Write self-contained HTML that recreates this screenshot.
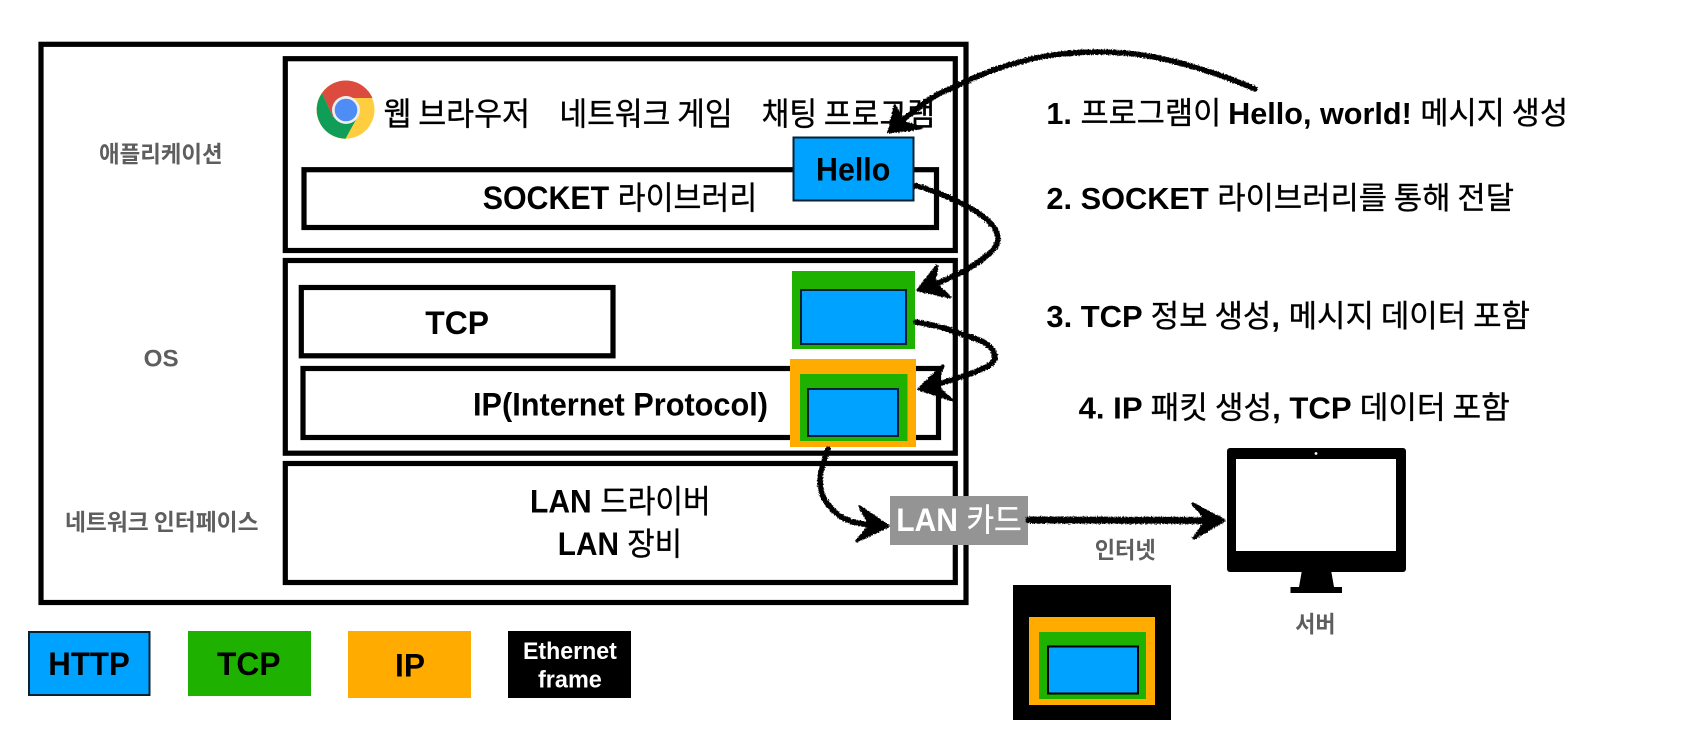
<!DOCTYPE html>
<html><head><meta charset="utf-8"><style>
html,body{margin:0;padding:0;background:#fff;width:1682px;height:750px;overflow:hidden}
svg{display:block}
text{font-family:"Liberation Sans","Noto Sans CJK KR",sans-serif;font-size:32px;fill:#000}
.b{font-weight:700}
.k{font-weight:400;font-family:"Noto Sans CJK KR",sans-serif;stroke:#000;stroke-width:.35}
.g{fill:#5e5e5e;font-size:23px;font-weight:700;font-family:"Noto Sans CJK KR","Liberation Sans",sans-serif}
.box{fill:#fff;stroke:#000;stroke-width:5.2}
.pkt{stroke:#0a2030;stroke-width:2}
.arr{fill:none;stroke:#000;stroke-width:5.5;stroke-linecap:round;stroke-linejoin:round}
.hd{fill:#000;stroke:#000;stroke-width:3;stroke-linejoin:round}
</style></head><body>
<svg width="1682" height="750" viewBox="0 0 1682 750" xmlns="http://www.w3.org/2000/svg">
<defs><filter id="r" x="-10%" y="-10%" width="120%" height="120%"><feTurbulence type="fractalNoise" baseFrequency="0.7" numOctaves="2" seed="3"/><feDisplacementMap in="SourceGraphic" scale="3.5" xChannelSelector="R" yChannelSelector="G"/></filter></defs>
<rect x="41" y="44.3" width="925" height="558.2" class="box"/>
<rect x="285.3" y="58.7" width="670" height="191.8" class="box"/>
<rect x="285.3" y="260.5" width="670" height="192.7" class="box"/>
<rect x="285.3" y="463.5" width="670" height="119" class="box"/>
<rect x="304" y="169.7" width="632.5" height="57.8" class="box"/>
<rect x="301.3" y="287.5" width="311.7" height="68.3" class="box"/>
<rect x="303" y="368.5" width="635.5" height="69" class="box"/>
<text x="99" y="162" textLength="123.6" lengthAdjust="spacingAndGlyphs" class="g">애플리케이션</text>
<text x="143.7" y="366.5" textLength="35" lengthAdjust="spacingAndGlyphs" class="g" style="font-family:'Liberation Sans',sans-serif;font-size:24px">OS</text>
<text x="65" y="530" textLength="193.5" lengthAdjust="spacingAndGlyphs" class="g">네트워크 인터페이스</text>
<!-- chrome icon -->
<g>
<circle cx="345.5" cy="109.7" r="29" fill="#ffcd40"/>
<path d="M322 93 A29 29 0 0 1 372.5 98 L346 98 L333 117 Z" fill="#db4c3f"/>
<path d="M322 93 A29 29 0 0 0 345.5 138.7 L358 116 L333 117 Z" fill="#0f9d58"/>
<circle cx="346" cy="110" r="14" fill="#eee"/>
<circle cx="346" cy="110" r="11.3" fill="#4e8cf6"/>
</g>
<text x="383.5" y="125" textLength="146.5" lengthAdjust="spacingAndGlyphs" class="k">웹 브라우저</text>
<text x="559.4" y="125" textLength="173.2" lengthAdjust="spacingAndGlyphs" class="k">네트워크 게임</text>
<text x="761.6" y="125" textLength="173.4" lengthAdjust="spacingAndGlyphs" class="k">채팅 프로그램</text>
<text x="482.7" y="209" textLength="274.6" lengthAdjust="spacingAndGlyphs"><tspan class="b">SOCKET </tspan><tspan class="k">라이브러리</tspan></text>
<text x="425.3" y="334" textLength="63.7" lengthAdjust="spacingAndGlyphs" class="b">TCP</text>
<text x="473" y="415.7" textLength="295" lengthAdjust="spacingAndGlyphs" class="b">IP(Internet Protocol)</text>
<text x="530" y="512.7" textLength="180.6" lengthAdjust="spacingAndGlyphs"><tspan class="b">LAN </tspan><tspan class="k">드라이버</tspan></text>
<text x="557.8" y="555" textLength="124.2" lengthAdjust="spacingAndGlyphs"><tspan class="b">LAN </tspan><tspan class="k">장비</tspan></text>
<!-- Hello -->
<rect x="793.5" y="137.5" width="120" height="63" fill="#00a2ff" class="pkt"/>
<text x="816" y="180.7" textLength="74.3" lengthAdjust="spacingAndGlyphs" class="b">Hello</text>
<!-- TCP packet -->
<rect x="792" y="271" width="123" height="78" fill="#1fb100"/>
<rect x="801" y="290" width="105" height="54" fill="#00a2ff" class="pkt"/>
<!-- IP packet -->
<rect x="790" y="359" width="126" height="88" fill="#ffab00"/>
<rect x="800" y="374" width="107.5" height="67" fill="#1fb100"/>
<rect x="808" y="389" width="90" height="47" fill="#00a2ff" class="pkt"/>
<!-- LAN card -->
<rect x="890" y="496" width="138" height="49" fill="#949494"/>
<text x="896.2" y="531" textLength="125.5" lengthAdjust="spacingAndGlyphs" style="fill:#fff"><tspan class="b" style="fill:#fff">LAN </tspan><tspan class="k" style="fill:#fff;stroke:#fff">카드</tspan></text>
<!-- legend -->
<rect x="29" y="632" width="120.5" height="63" fill="#00a2ff" class="pkt"/>
<text x="48.3" y="675" textLength="81.5" lengthAdjust="spacingAndGlyphs" class="b">HTTP</text>
<rect x="188" y="631" width="123" height="65" fill="#1fb100"/>
<text x="217" y="675" textLength="63.5" lengthAdjust="spacingAndGlyphs" class="b">TCP</text>
<rect x="348" y="631" width="123" height="67" fill="#ffab00"/>
<text x="395" y="676.7" textLength="30" lengthAdjust="spacingAndGlyphs" class="b">IP</text>
<rect x="508" y="631" width="123" height="67" fill="#000"/>
<text x="523" y="659" textLength="93.8" lengthAdjust="spacingAndGlyphs" class="b" style="fill:#fff;font-size:24px">Ethernet</text>
<text x="538" y="687.7" textLength="63.8" lengthAdjust="spacingAndGlyphs" class="b" style="fill:#fff;font-size:24px">frame</text>
<!-- ethernet frame packet -->
<rect x="1013" y="585" width="158" height="135" fill="#000"/>
<rect x="1029" y="617" width="126" height="88" fill="#ffab00"/>
<rect x="1039" y="632" width="107" height="67" fill="#1fb100"/>
<rect x="1048" y="646.5" width="90" height="47" fill="#00a2ff" stroke="#000" stroke-width="2"/>
<!-- monitor -->
<rect x="1227" y="448" width="179" height="124" rx="3" fill="#000"/>
<rect x="1236" y="459" width="160" height="92" fill="#fff"/>
<circle cx="1316" cy="453.5" r="1.4" fill="#fff"/>
<path d="M1302 570 H1331 L1334 587 H1342 V593 H1290.5 V587 H1299 Z" fill="#000"/>
<text x="1094.7" y="558" textLength="61" lengthAdjust="spacingAndGlyphs" class="g">인터넷</text>
<text x="1295.3" y="632" textLength="40.2" lengthAdjust="spacingAndGlyphs" class="g">서버</text>
<!-- steps -->
<text x="1046.4" y="124" textLength="521.6" lengthAdjust="spacingAndGlyphs" style="font-size:31px"><tspan class="b">1. </tspan><tspan class="k">프로그램이 </tspan><tspan class="b">Hello, world! </tspan><tspan class="k">메시지 생성</tspan></text>
<text x="1046.4" y="209" textLength="467.6" lengthAdjust="spacingAndGlyphs" style="font-size:31px"><tspan class="b">2. SOCKET </tspan><tspan class="k">라이브러리를 통해 전달</tspan></text>
<text x="1046.4" y="327" textLength="483.6" lengthAdjust="spacingAndGlyphs" style="font-size:31px"><tspan class="b">3. TCP </tspan><tspan class="k">정보 생성</tspan><tspan class="b">, </tspan><tspan class="k">메시지 데이터 포함</tspan></text>
<text x="1078.6" y="418.3" textLength="431.2" lengthAdjust="spacingAndGlyphs" style="font-size:31px"><tspan class="b">4. IP </tspan><tspan class="k">패킷 생성</tspan><tspan class="b">, TCP </tspan><tspan class="k">데이터 포함</tspan></text>
<!-- arrows -->
<g filter="url(#r)">
<path class="arr" d="M1255 89 C1228 77 1205 70 1180 63 C1155 56 1128 52 1100 52 C1075 52 1050 54 1027 60 C1003 66 983 73 963 83 C948 90 938 93 927 101 C915 110 905 118 897 125"/>
<path class="hd" d="M889 132 L895 106 L903 122 L921 128 Z"/>
<path class="arr" d="M916 186 C925 188 934 191 943 195 C955 200 966 205 977 212 C987 219 998 228 998 238 C998 246 992 252 985 257 C978 263 968 269 960 273 C952 277 945 280 936 284"/>
<path class="hd" d="M918 290 L937 266 L934 283 L950 297 Z"/>
<path class="arr" d="M916 322 C927 324 939 326 950 330 C961 334 972 337 983 342 C989 345 995 351 995 357 C995 363 987 367 980 370 C968 375 955 379 935 385"/>
<path class="hd" d="M919 389 L943 366 L935 385 L952 400 Z"/>
<path class="arr" d="M828 449 C825 458 821 467 820 477 C820 486 821 494 825 500 C830 508 836 514 843 518 C851 522 860 524 872 525"/>
<path class="hd" d="M888 526 L860 507 L870 525 L857 541 Z"/>
<path class="arr" d="M1029 520 L1210 520.5" style="stroke-width:7"/>
<path class="hd" d="M1224 520.5 L1193 504 L1207 520 L1194 538 Z"/>
</g>
</svg>
</body></html>
